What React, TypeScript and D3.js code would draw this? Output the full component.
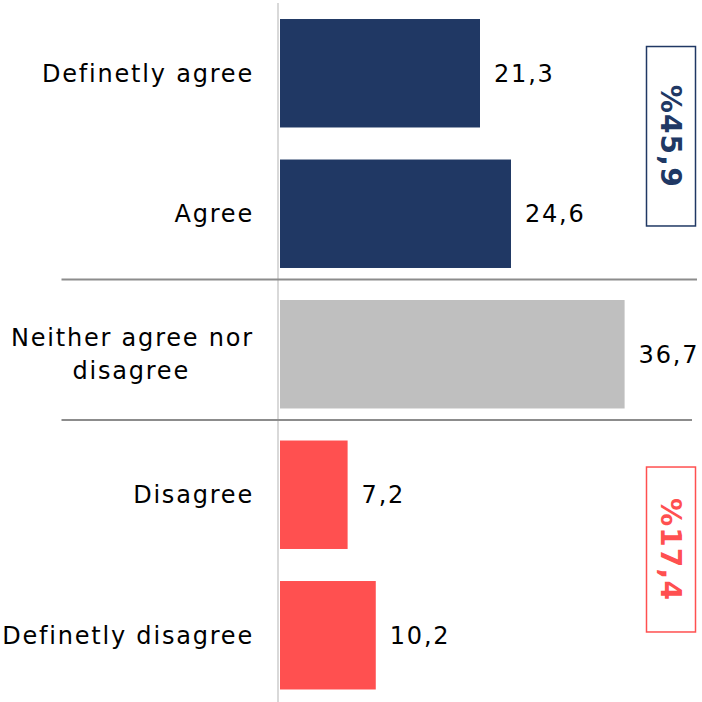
import React from "react";
import * as d3 from "d3";

const categories = [
  "Definetly agree",
  "Agree",
  "Neither agree nor disagree",
  "Disagree",
  "Definetly disagree",
];
const labelLines = [
  ["Definetly agree"],
  ["Agree"],
  ["Neither agree nor", "disagree"],
  ["Disagree"],
  ["Definetly disagree"],
];
const values = [21.3, 24.6, 36.7, 7.2, 10.2];
const valueLabels = ["21,3", "24,6", "36,7", "7,2", "10,2"];
const groups = ["pos", "pos", "neu", "neg", "neg"];
const groupColors: Record<string, string> = {
  pos: "#203864",
  neu: "#bfbfbf",
  neg: "#ff5050",
};
const summaryLabels = ["%45,9", "%17,4"];
const summaryGroups = [
  { from: 0, to: 1, color: "#203864", topOff: 27.5, botOff: -42 },
  { from: 3, to: 4, color: "#ff5050", topOff: 26.5, botOff: -57.5 },
];

const W = 702;
const H = 702;

export default function App() {
  const y = d3
    .scaleBand<string>()
    .domain(categories)
    .range([3, 705.5])
    .paddingInner(0.228)
    .paddingOuter(0.114);
  const x = d3.scaleLinear().domain([0, 21.3]).range([280, 480]);
  const bw = y.bandwidth();
  const font = "'DejaVu Sans', Verdana, sans-serif";

  const sepAfter = [1, 2];

  return (
    <svg
      width={W}
      height={H}
      style={{ position: "absolute", left: 0, top: 0 }}
      fontFamily={font}
    >
      <rect x={0} y={0} width={W} height={H} fill="#fff" />
      {/* axis line */}
      <line x1={278} x2={278} y1={3} y2={702} stroke="#d9d9d9" strokeWidth={2} />
      {/* separators */}
      {sepAfter.map((i, k) => {
        const yb = (y(categories[i]) as number) + bw;
        const yn = y(categories[i + 1]) as number;
        const ys = yb + (yn - yb) * 0.36;
        return (
          <line
            key={i}
            x1={61.5}
            x2={k === 0 ? 697 : 692}
            y1={ys}
            y2={ys}
            stroke="#8c8c8c"
            strokeWidth={2}
          />
        );
      })}
      {/* bars */}
      {categories.map((c, i) => (
        <rect
          key={c}
          x={x(0)}
          y={y(c)}
          width={x(values[i]) - x(0)}
          height={bw}
          fill={groupColors[groups[i]]}
        />
      ))}
      {/* category labels */}
      {categories.map((c, i) => {
        const cy = (y(c) as number) + bw / 2;
        const lines = labelLines[i];
        const lh = 33;
        return (
          <text
            key={c}
            x={254}
            textAnchor="end"
            fontSize={24}
            letterSpacing={1.8}
            fill="#000"
          >
            {lines.map((l, j) => (
              <tspan
                key={j}
                x={lines.length > 1 && j === 1 ? 190 : 254}
                y={cy + (j - (lines.length - 1) / 2) * lh}
                dy="0.36em"
              >
                {l}
              </tspan>
            ))}
          </text>
        );
      })}
      {/* value labels */}
      {categories.map((c, i) => (
        <text
          key={c}
          x={x(values[i]) + 14}
          y={(y(c) as number) + bw / 2}
          dy="0.36em"
          fontSize={24}
          letterSpacing={1.8}
          fill="#000"
        >
          {valueLabels[i]}
        </text>
      ))}
      {/* summary boxes */}
      {summaryGroups.map((g, k) => {
        const top = (y(categories[g.from]) as number) + g.topOff;
        const bottom = (y(categories[g.to]) as number) + bw + g.botOff;
        const cx = 671;
        const cy = (top + bottom) / 2;
        return (
          <g key={k}>
            <rect
              x={646.5}
              y={top}
              width={49}
              height={bottom - top}
              fill="none"
              stroke={g.color}
              strokeWidth={1.5}
            />
            <text
              transform={`translate(${cx},${cy}) rotate(90)`}
              textAnchor="middle"
              dy="0.36em"
              fontSize={28}
              fontWeight="bold"
              letterSpacing={1.2}
              fill={g.color}
            >
              {summaryLabels[k]}
            </text>
          </g>
        );
      })}
    </svg>
  );
}
